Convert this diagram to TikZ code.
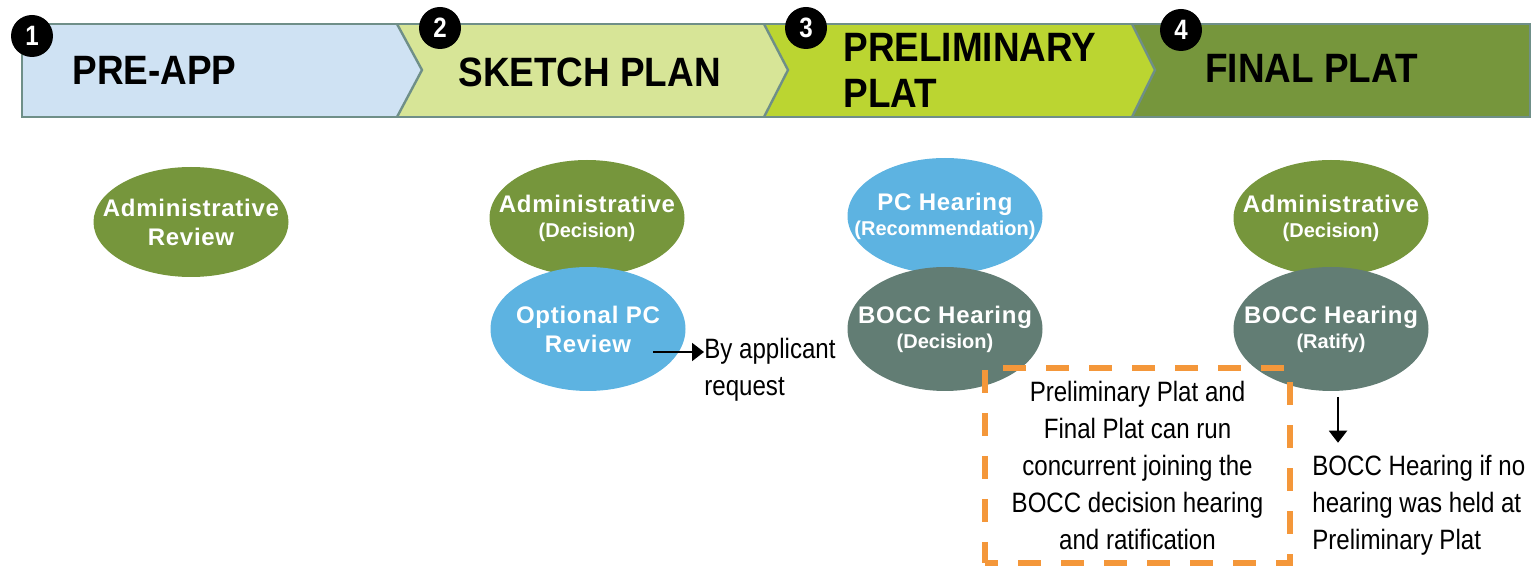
\documentclass[tikz,border=0pt]{standalone}
\usepackage{fontspec}
\setmainfont{Liberation Sans}
\newfontfamily\bannerfont[FakeStretch=0.9]{Liberation Sans}
\newfontfamily\notefont[FakeStretch=0.86]{Liberation Sans}
\newfontfamily\ovalfont[LetterSpace=3]{Liberation Sans}
\usetikzlibrary{positioning, arrows.meta, shapes.geometric}

\definecolor{preblue}{HTML}{CFE2F3}
\definecolor{sketchgreen}{HTML}{D7E597}
\definecolor{prelimgreen}{HTML}{BBD531}
\definecolor{finalgreen}{HTML}{76963C}
\definecolor{stageedge}{HTML}{6F8F88}
\definecolor{pcblue}{HTML}{5DB3E1}
\definecolor{boccgray}{HTML}{627D74}
\definecolor{noteorange}{HTML}{F4973A}

\newcommand{\ovalsub}[1]{{\normalfont\bfseries\fontsize{10}{12}\selectfont #1}}

\begin{document}
\begin{tikzpicture}[
    x=0.5pt, y=-0.5pt,
    % Styles
    stage/.style={draw=stageedge, line width=1.2pt},
    stagetitle/.style={anchor=west, inner sep=0pt, align=left, font=\bannerfont\bfseries\fontsize{20.5}{23}\selectfont},
    num/.style={circle, fill=black, minimum size=21pt, inner sep=0pt, text=white, font=\notefont\bfseries\fontsize{14}{14}\selectfont},
    oval/.style={ellipse, minimum width=97.5pt, minimum height=58pt, inner xsep=-25pt, inner ysep=0pt, text=white, align=center, font=\ovalfont\bfseries\fontsize{12}{14.5}\selectfont},
    admin/.style={oval, fill=finalgreen},
    pc/.style={oval, fill=pcblue},
    bocc/.style={oval, fill=boccgray, minimum height=62pt},
    note/.style={inner sep=0pt, align=left, font=\notefont\fontsize{14}{18.4}\selectfont},
    concur/.style={draw=noteorange, line width=3.2pt, dash pattern=on 11.5pt off 10pt, dash phase=5pt, minimum width=152.5pt, minimum height=97.5pt, inner sep=0pt, align=center, font=\notefont\fontsize{14}{18.4}\selectfont},
    arrow/.style={-{Triangle[width=9pt,length=6pt]}, line width=1pt, black},
]
\useasboundingbox (0,0) rectangle (1539,572);

% Stage banner
\fill[preblue] (22,24) -- (397,24) -- (422,70) -- (397,117) -- (22,117) -- cycle;
\fill[sketchgreen] (397,24) -- (764,24) -- (788,70) -- (764,117) -- (397,117) -- (422,70) -- cycle;
\fill[prelimgreen] (764,24) -- (1132,24) -- (1155,70) -- (1132,117) -- (764,117) -- (788,70) -- cycle;
\fill[finalgreen] (1132,24) -- (1530,24) -- (1530,117) -- (1132,117) -- (1155,70) -- cycle;
\draw[stage] (22,24) rectangle (1530,117);
\draw[stage] (397,24) -- (422,70) -- (397,117);
\draw[stage] (764,24) -- (788,70) -- (764,117);
\draw[stage] (1132,24) -- (1155,70) -- (1132,117);

\node[stagetitle] (preapp) at (72,70) {PRE-APP};
\node[stagetitle] (sketch) at (458,72) {SKETCH PLAN};
\node[stagetitle] (prelim) at (843,70) {PRELIMINARY\\PLAT};
\node[stagetitle] (final) at (1205,68) {FINAL PLAT};

\node[num] (n1) at (32,36) {1};
\node[num] (n2) at (440,28) {2};
\node[num] (n3) at (806,28) {3};
\node[num] (n4) at (1181,30) {4};

% Stage 1
\node[admin, minimum height=55pt] (review) at (191,222) {Administrative\\Review};

% Stage 2
\node[admin] (admin2) at (587,218) {Administrative\\[-2pt]\ovalsub{(Decision)}};
\node[pc, minimum height=62pt] (optpc) at (588,329) {Optional PC\\Review};

% Stage 3
\node[pc] (pchear) at (945,216) {PC Hearing\\[-2pt]\ovalsub{(Recommendation)}};
\node[bocc] (boccdec) at (945,329) {BOCC Hearing\\[-2pt]\ovalsub{(Decision)}};

% Stage 4
\node[admin] (admin4) at (1331,218) {Administrative\\[-2pt]\ovalsub{(Decision)}};
\node[bocc] (boccrat) at (1331,329) {BOCC Hearing\\[-2pt]\ovalsub{(Ratify)}};

% Notes
\node[note, anchor=west] (bynote) at (704,370) {By applicant\\request};
\coordinate (optTail) at (653,352);
\draw[arrow] (optTail) -- (optTail -| bynote.west);

\node[concur] (concur) at (1137.5,465.5) {Preliminary Plat and\\Final Plat can run\\concurrent joining the\\BOCC decision hearing\\and ratification};

\node[note, anchor=west] (ratnote) at (1312,505) {BOCC Hearing if no\\hearing was held at\\Preliminary Plat};
\coordinate (ratTail) at (1338,397);
\draw[arrow, shorten >=6pt] (ratTail) -- (ratTail |- ratnote.north);

\end{tikzpicture}
\end{document}
